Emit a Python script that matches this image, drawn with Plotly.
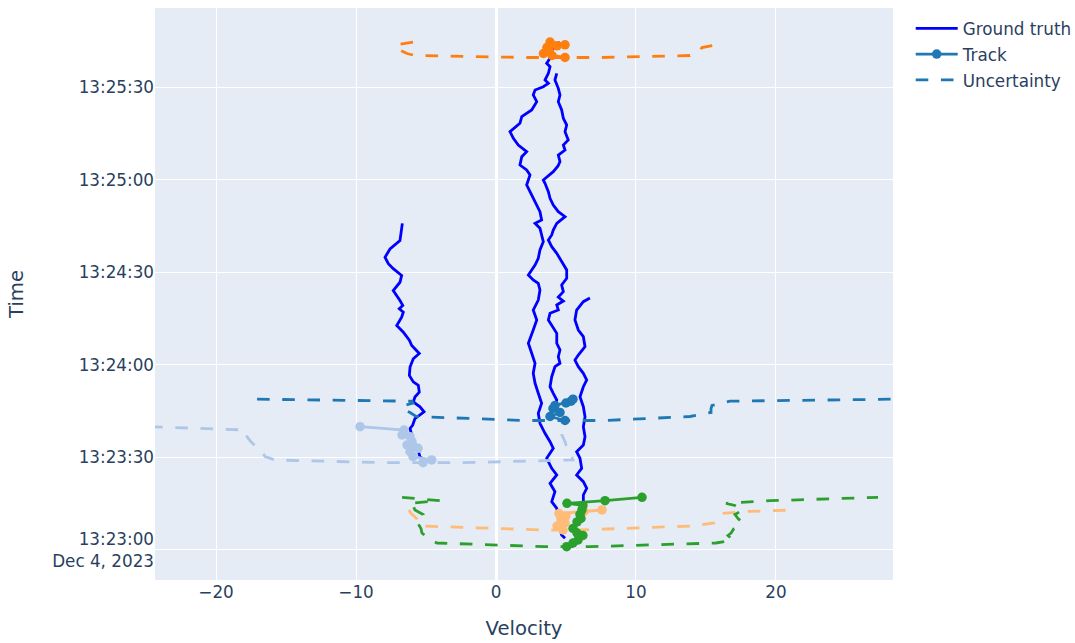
import pandas as pd
import plotly.graph_objects as go

BASE = pd.Timestamp("2023-12-04 13:23:00")

# ---------------- Ground truth paths (time offset in s from 13:23:00, velocity) -------------
gt1_time = [29.1, 30.2, 32.4, 35.6, 39.4, 40.5, 42.6, 43.7, 44.8, 46.4, 48.0, 49.6, 51.2, 53.4,
            54.5, 56.6, 59.3, 62.0, 63.7, 66.3, 68.0, 70.6, 72.8, 75.5, 77.1, 78.2, 79.3, 80.9,
            84.1, 86.8, 89.0, 91.2, 92.8, 94.9, 97.6, 100.3, 104.1, 105.9]
gt1_vel = [-5.07, -5.43, -5.57, -5.93, -6.14, -5.95, -5.79, -5.48, -5.14, -5.43, -5.91, -5.79,
           -5.48, -5.55, -5.91, -6.19, -6.14, -5.91, -5.48, -6.02, -6.19, -6.62, -7.09, -6.74,
           -6.62, -6.91, -6.66, -6.86, -7.34, -6.86, -6.74, -7.34, -7.69, -7.93, -7.57, -6.86,
           -6.74, -6.69]

gt2_time = [3.79, 4.86, 7.03, 11.35, 13.52, 15.66, 18.90, 21.62, 24.31, 26.49, 29.73, 32.97,
            35.11, 37.83, 41.07, 44.32, 47.56, 50.80, 54.04, 57.28, 60.53, 63.77, 67.01, 71.32,
            74.56, 77.80, 81.04, 84.29, 86.46, 87.53, 89.15, 92.39, 94.56, 97.25, 99.94, 102.12,
            104.29, 105.91, 106.98, 109.67, 111.84, 114.01, 116.15, 118.33, 121.57, 123.19,
            124.81, 127.50, 129.12, 131.29, 133.47, 135.61, 138.33, 140.47, 142.64, 145.33,
            147.50, 149.12, 150.19, 151.29, 152.36, 154.54, 156.67, 157.78, 159.40, 162.09,
            163.39, 164.68]
gt2_vel = [4.93, 4.69, 4.57, 4.45, 4.34, 3.98, 4.21, 3.86, 4.34, 3.98, 3.62, 4.09, 3.86, 3.50,
           3.14, 3.02, 3.26, 3.02, 2.79, 2.66, 2.79, 2.55, 2.31, 2.66, 2.91, 2.66, 3.02, 3.14,
           3.02, 2.66, 2.31, 2.79, 3.02, 3.14, 3.38, 3.26, 3.14, 2.79, 3.26, 3.14, 2.91, 2.66,
           2.43, 2.19, 2.43, 2.19, 1.71, 1.84, 2.19, 1.59, 1.24, 1.00, 1.71, 1.84, 2.55, 2.91,
           2.66, 2.79, 3.38, 3.74, 3.50, 3.74, 3.86, 3.62, 3.86, 3.98, 4.29, 4.57]

gt3_time = [46.36, 48.63, 50.80, 52.94, 56.18, 59.42, 60.53, 62.66, 64.83, 67.01, 70.25, 72.94,
            74.56, 76.73, 77.80, 79.42, 80.70, 82.0, 83.74, 85.91, 88.08, 90.77, 93.46, 96.18,
            98.32, 100.50, 102.12, 103.74, 105.91, 108.05, 109.67, 111.84, 114.01, 116.15,
            118.88, 119.95, 122.64, 124.49, 125.88, 128.05, 129.67, 131.29, 132.91, 135.61,
            137.78, 139.95, 142.64, 145.33, 147.50, 149.67, 152.36, 154.54]
gt3_vel = [4.21, 4.34, 4.09, 3.86, 3.98, 4.21, 4.57, 4.45, 4.57, 4.34, 4.34, 3.98, 3.74, 3.86,
           4.45, 4.34, 4.81, 4.45, 4.81, 4.69, 5.05, 5.05, 4.69, 4.34, 3.98, 3.74, 3.98, 4.09,
           4.34, 4.93, 4.45, 4.09, 3.86, 3.74, 3.50, 3.38, 4.09, 4.43, 4.57, 4.45, 4.93, 4.81,
           5.16, 4.93, 5.05, 4.81, 4.69, 4.45, 4.57, 4.45, 4.21, 4.34]

gt4_time = [12.32, 15.66, 17.83, 20.0, 22.14, 24.31, 26.49, 29.73, 31.87, 34.04, 36.73, 39.97,
            43.21, 46.46, 49.70, 52.94, 55.11, 57.28, 59.42, 61.59, 63.21, 65.91, 69.15, 71.32,
            74.56, 77.80, 80.49, 81.69]
gt4_vel = [6.14, 6.24, 6.24, 6.48, 6.24, 5.76, 6.12, 6.00, 5.76, 6.24, 6.36, 6.24, 6.36, 6.24,
           6.00, 6.24, 6.48, 6.24, 5.88, 5.64, 5.88, 6.36, 6.24, 5.88, 5.64, 5.76, 6.24, 6.71]

# ---------------- Tracks: time offset, velocity, lower / upper uncertainty bound -------------
t1_time = [41.98, 43.28, 44.58, 45.87, 46.84, 47.65, 48.24, 48.89]
t1_vel = [4.93, 3.86, 4.57, 4.07, 4.21, 5.00, 5.36, 5.50]
t1_lower = [2.07, -5.71, -6.14, -6.71, -6.57, -5.93, -6.00, -17.07]
t1_upper = [7.79, 13.86, 15.36, 15.36, 15.43, 16.14, 16.71, 28.40]

t2_time = [28.30, 29.18, 30.25, 31.87, 32.97, 33.49, 34.04, 35.11, 36.73, 37.28, 38.90, 39.97]
t2_vel = [-5.21, -4.59, -5.93, -6.14, -5.57, -5.93, -6.36, -6.00, -6.14, -6.71, -6.57, -9.71]
t2_lower = [-7.93, -15.79, -16.50, -16.71, -16.93, -17.14, -17.29, -17.50, -17.79, -17.86,
            -17.93, -24.71]
t2_upper = [-2.43, 5.50, 5.43, 5.29, 5.14, 5.07, 5.00, 4.93, 4.79, 4.71, 4.71, 5.00]

t3_time = [159.66, 160.31, 160.96, 161.93, 162.90, 163.45, 163.78, 164.68]
t3_vel = [4.93, 4.00, 3.39, 3.79, 3.64, 4.36, 4.93, 3.86]
t3_lower = [2.29, -5.79, -6.36, -6.79, -6.93, -7.00, -7.14, -5.93]
t3_upper = [7.57, 13.86, 14.14, 14.57, 14.71, 15.29, 15.71, 15.14]

t4_time = [6.48, 7.78, 8.75, 10.05, 11.02, 11.83, 12.48, 12.97]
t4_vel = [4.79, 4.36, 4.93, 4.64, 5.00, 4.50, 6.29, 7.57]
t4_lower = [3.50, -5.43, -5.50, -5.64, -5.86, -6.07, -6.14, -6.21]
t4_upper = [6.00, 14.00, 15.57, 15.71, 15.86, 16.14, 17.79, 21.36]

t5_time = [1.07, 2.27, 3.24, 4.70, 5.51, 6.97, 9.08, 10.21, 11.51, 12.97, 14.43, 15.14, 15.98,
           17.08]
t5_vel = [5.05, 5.50, 5.86, 6.21, 5.79, 5.50, 5.79, 6.07, 6.00, 6.14, 6.21, 5.07, 7.79, 10.43]
t5_lower = [3.50, -4.21, -4.64, -5.07, -5.29, -5.36, -5.64, -5.29, -5.21, -5.79, -5.93, -6.21,
            -4.00, -6.71]
t5_upper = [6.71, 15.71, 16.93, 16.57, 16.79, 17.00, 17.57, 17.29, 17.07, 17.64, 17.07, 16.43,
            19.57, 27.29]

track_colors = ["#1f77b4", "#aec7e8", "#ff7f0e", "#ffbb78", "#2ca02c"]

x_range = [-24.36, 28.36]
y_range_s = [-9.73, 175.71]


def ts(offsets):
    return [BASE + pd.Timedelta(seconds=s) for s in offsets]


S = 1.4  # overall scale of the reference rendering
LW = 2 * S
DASH = "12.6px,12.6px"

fig = go.Figure()

gts = [(gt1_time, gt1_vel), (gt2_time, gt2_vel), (gt3_time, gt3_vel), (gt4_time, gt4_vel)]
for i, (tt, vv) in enumerate(gts):
    fig.add_trace(go.Scatter(
        x=vv, y=ts(tt), mode="lines", name="Ground truth",
        line=dict(color="#0000ff", width=LW),
        legendgroup="gt", showlegend=(i == 0), legendrank=1))

tracks = [(t1_time, t1_vel, t1_lower, t1_upper), (t2_time, t2_vel, t2_lower, t2_upper),
          (t3_time, t3_vel, t3_lower, t3_upper), (t4_time, t4_vel, t4_lower, t4_upper),
          (t5_time, t5_vel, t5_lower, t5_upper)]

for i, (tt, vv, lo, up) in enumerate(tracks):
    ux = list(reversed(lo)) + list(up)
    uy = list(reversed(tt)) + list(tt)
    fig.add_trace(go.Scatter(
        x=ux, y=ts(uy), mode="lines", name="Uncertainty",
        line=dict(color=track_colors[i], width=LW, dash=DASH),
        legendgroup="unc", showlegend=(i == 0), legendrank=3))

for i, (tt, vv, lo, up) in enumerate(tracks):
    fig.add_trace(go.Scatter(
        x=vv, y=ts(tt), mode="lines+markers", name="Track",
        line=dict(color=track_colors[i], width=LW),
        marker=dict(color=track_colors[i], size=9.5),
        legendgroup="track", showlegend=(i == 0), legendrank=2))

fig.update_layout(
    template="plotly",
    width=1075, height=643,
    margin=dict(l=155, r=182, t=8, b=63, pad=0, autoexpand=False),
    font=dict(family="DejaVu Sans, Verdana, sans-serif", size=12 * S, color="#2a3f5f"),
    legend=dict(x=1.024, y=0.995, xanchor="left", yanchor="top", itemwidth=42,
                font=dict(size=12 * S), tracegroupgap=1),
    xaxis=dict(title=dict(text="Velocity", font=dict(size=14 * S), standoff=20),
               range=x_range, dtick=10, gridwidth=S, zerolinewidth=2 * S, automargin=False),
    yaxis=dict(title=dict(text="Time", font=dict(size=14 * S), standoff=23), type="date",
               range=ts(y_range_s), dtick=30000, tick0=BASE, gridwidth=S, automargin=False),
)

fig.write_html("out.html")
